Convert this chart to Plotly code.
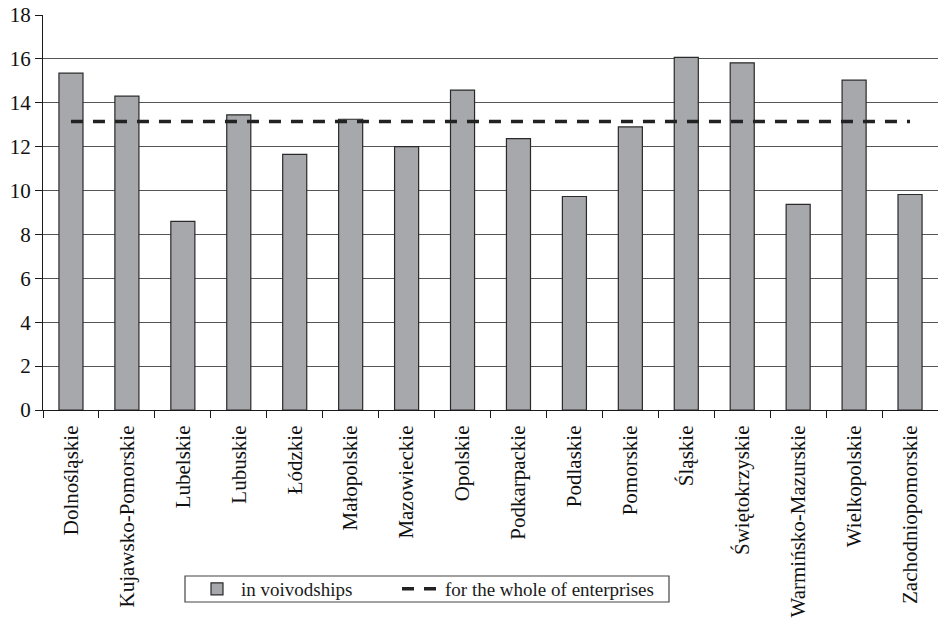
import plotly.graph_objects as go

categories = ["Dolnośląskie", "Kujawsko-Pomorskie", "Lubelskie", "Lubuskie", "Łódzkie",
              "Małopolskie", "Mazowieckie", "Opolskie", "Podkarpackie", "Podlaskie",
              "Pomorskie", "Śląskie", "Świętokrzyskie", "Warmińsko-Mazurskie",
              "Wielkopolskie", "Zachodniopomorskie"]
voivodship_values = [15.35, 14.3, 8.6, 13.45, 11.65, 13.25, 12.0, 14.58, 12.37, 9.73,
                     12.9, 16.07, 15.82, 9.37, 15.03, 9.82]
whole_value = 13.15
whole_values = [whole_value] * len(categories)

W, H = 938, 623
ml, mr, mt, mb = 43, 0, 15, 213
plot_h = H - mt - mb
plot_w = W - ml - mr


def px_x(px):
    return (px - ml) / plot_w


def px_y(py):
    return (mt + plot_h - py) / plot_h


fig = go.Figure()
fig.add_trace(go.Bar(
    x=categories, y=voivodship_values, name="in voivodships",
    marker=dict(color="#a7a8ac", line=dict(color="#2a2a2a", width=1.2)),
    legend="legend",
))
fig.add_trace(go.Scatter(
    x=categories, y=whole_values, name="for the whole of enterprises",
    mode="lines", line=dict(color="#222222", width=3.5, dash="12px,10px"),
    legend="legend2",
))

legend_common = dict(
    orientation="h", yanchor="middle", y=px_y(589),
    xanchor="left", bgcolor="rgba(0,0,0,0)", borderwidth=0,
    font=dict(family="Liberation Serif", size=19, color="#1a1a1a"),
    itemwidth=38,
)

fig.update_layout(
    width=W, height=H,
    margin=dict(l=ml, r=mr, t=mt, b=mb, autoexpand=False),
    plot_bgcolor="white", paper_bgcolor="white",
    bargap=0.57,
    showlegend=True,
    legend=dict(x=px_x(193), **legend_common),
    legend2=dict(x=px_x(397), **legend_common),
    shapes=[dict(type="rect", xref="paper", yref="paper",
                 x0=px_x(185), x1=px_x(669), y0=px_y(602), y1=px_y(576),
                 line=dict(color="#444444", width=1.2), fillcolor="rgba(0,0,0,0)",
                 layer="below")],
    xaxis=dict(
        type="category",
        tickangle=-90,
        tickfont=dict(family="Liberation Serif", size=21, color="#111111"),
        showline=True, linecolor="#1a1a1a", linewidth=1.2,
        ticks="outside", tickson="boundaries", ticklen=7, tickcolor="#1a1a1a",
        ticklabelstandoff=6,
        showgrid=False, automargin=False,
        range=[-0.5, len(categories) - 0.5],
    ),
    yaxis=dict(
        range=[0, 18], dtick=2,
        tickfont=dict(family="Liberation Serif", size=21, color="#111111"),
        showline=True, linecolor="#1a1a1a", linewidth=1.2,
        ticks="outside", ticklen=7, tickcolor="#1a1a1a",
        showgrid=True, gridcolor="#555555", gridwidth=1,
        zeroline=False, automargin=False,
    ),
)

fig.write_html("out.html", config={"displayModeBar": False},
               post_script="document.body.style.margin='0';")
